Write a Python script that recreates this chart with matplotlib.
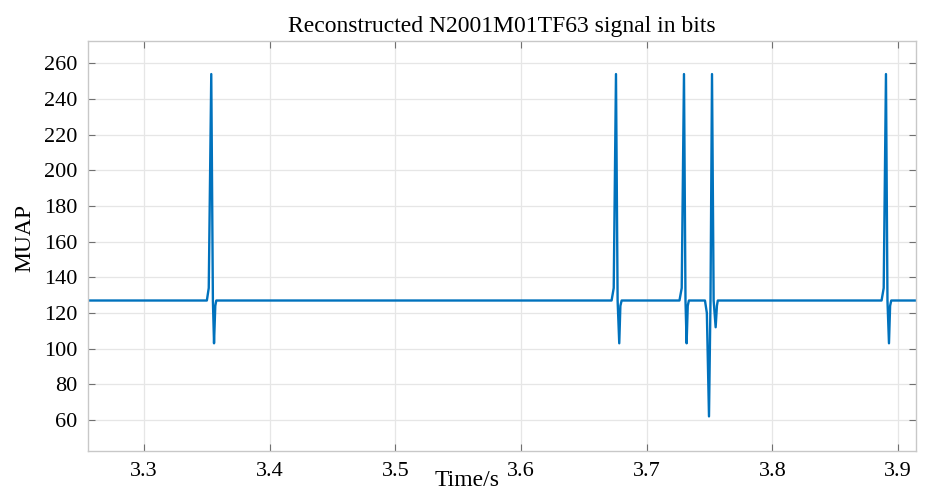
import numpy as np
import matplotlib
matplotlib.use("Agg")
import matplotlib.pyplot as plt

# reconstructed signal, breakpoints (time in s, value in bits)
t_start = [3.2557]
v_start = [127]

spike1_t = [3.3500, 3.3515, 3.3535, 3.3548, 3.3557, 3.3567, 3.3575]
spike1_v = [127, 134, 254, 127, 103, 124, 127]

spike2_t = [3.6720, 3.6737, 3.6755, 3.6768, 3.6781, 3.6790, 3.6800]
spike2_v = [127, 134, 254, 127, 103, 124, 127]

spike3_t = [3.7260, 3.7278, 3.7296, 3.7308, 3.7317, 3.7326, 3.7335]
spike3_v = [127, 134, 254, 127, 103, 124, 127]

# negative dip followed by a spike
spike4_t = [3.7463, 3.7478, 3.7495, 3.7507, 3.7519, 3.7532, 3.7548, 3.7558, 3.7565]
spike4_v = [127, 120, 62, 127, 254, 127, 112, 124, 127]

spike5_t = [3.8868, 3.8885, 3.8903, 3.8915, 3.8927, 3.8936, 3.8945]
spike5_v = [127, 134, 254, 127, 103, 124, 127]

t_end = [3.914]
v_end = [127]

x_ticks = [3.3, 3.4, 3.5, 3.6, 3.7, 3.8, 3.9]
y_ticks = [60, 80, 100, 120, 140, 160, 180, 200, 220, 240, 260]

t = np.array(t_start + spike1_t + spike2_t + spike3_t + spike4_t + spike5_t + t_end)
v = np.array(v_start + spike1_v + spike2_v + spike3_v + spike4_v + spike5_v + v_end)

plt.rcParams['font.family'] = ['Liberation Serif', 'DejaVu Serif']

fig = plt.figure(figsize=(9.25, 4.93), dpi=100)
axes = fig.add_axes([0.0955, 0.0852, 0.8945, 0.8322])

axes.plot(t, v, color='#0072BD', linewidth=1.7)

axes.set_xlim(3.2557, 3.914)
axes.set_ylim(42.6, 272.7)
axes.set_xticks(x_ticks)
axes.set_yticks(y_ticks)
axes.set_xticklabels(["%.1f" % x for x in x_ticks])
axes.grid(True, color='#e6e6e6', linewidth=0.9)
axes.set_axisbelow(True)

for s in axes.spines.values():
    s.set_color('#c8c8c8')
    s.set_linewidth(1.0)

axes.tick_params(direction='in', length=5, width=0.8, color='#707070',
                 top=True, right=True, labelsize=16, pad=8)

# labels sit where the original figure put them
axes.set_xlabel("Time/s", fontsize=17)
axes.xaxis.set_label_coords(0.4575, -0.046)
axes.set_ylabel("MUAP", fontsize=17)
axes.yaxis.set_label_coords(-0.0635, 0.52)
axes.set_title("Reconstructed N2001M01TF63 signal in bits", fontsize=17, pad=6)

fig.savefig("out.png", dpi=100)
